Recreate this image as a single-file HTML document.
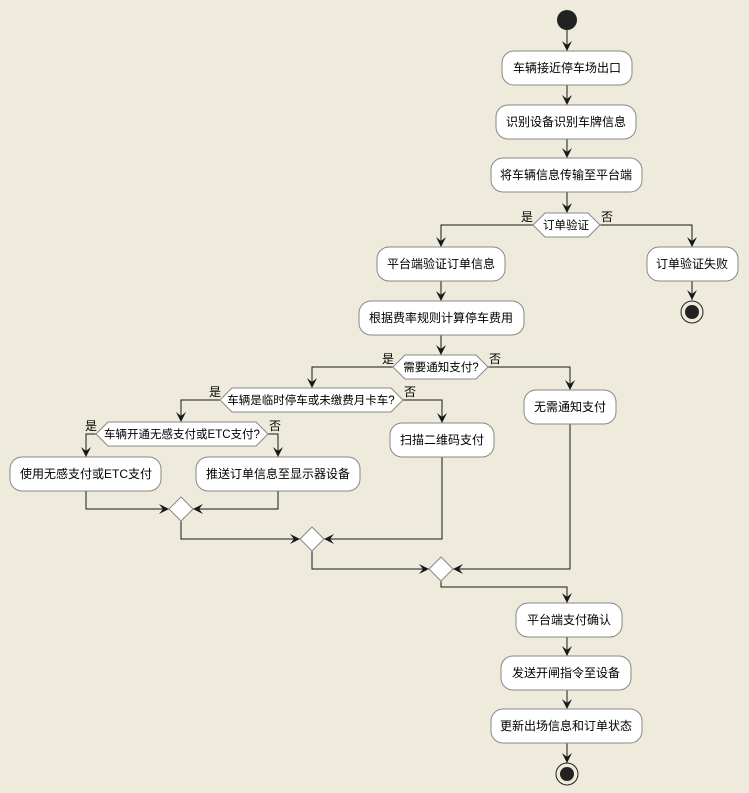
<!DOCTYPE html>
<html><head><meta charset="utf-8"><style>
html,body{margin:0;padding:0;background:#EEEBDC;}
svg{display:block;}
text{font-family:"Liberation Sans","Noto Sans CJK SC",sans-serif;font-size:12px;fill:#000;}
text.h{font-size:11.5px;}
.b{fill:#fff;stroke:#888;stroke-width:1;}
.l{fill:none;stroke:#181818;stroke-width:1;}
</style></head><body>
<svg width="749" height="793" viewBox="0 0 749 793" xmlns="http://www.w3.org/2000/svg">
<defs><marker id="a" viewBox="0 0 10 10" refX="10" refY="5" markerWidth="10" markerHeight="10" markerUnits="userSpaceOnUse" orient="auto"><path d="M0,0 L10,5 L0,10 L4,5 Z" fill="#181818"/></marker></defs>
<rect width="749" height="793" fill="#EEEBDC"/>
<circle cx="567" cy="20" r="10" fill="#222"/>
<g class="l" marker-end="url(#a)">
<path d="M567,30V51"/><path d="M567,85V105"/><path d="M567,139V158"/><path d="M567,192V213"/>
<path d="M533,225H441V247"/><path d="M600,225H692V247"/><path d="M692,281V300"/>
<path d="M441,281V301"/><path d="M441,335V355"/>
<path d="M393,367H312V388"/><path d="M488,367H570V390"/>
<path d="M220,400H181V422"/><path d="M403,400H442V423"/>
<path d="M96,434H86V457"/><path d="M268,434H278V457"/>
<path d="M86,491V509H169"/><path d="M278,491V509H193"/>
<path d="M181,521V539H300"/><path d="M442,457V539H324"/>
<path d="M312,551V569H429"/><path d="M570,424V569H453"/>
<path d="M441,581V587H567V603"/><path d="M567,637V656"/><path d="M567,690V709"/><path d="M567,743V763"/>
</g>
<rect class="b" x="502" y="51" width="130" height="34" rx="12"/><text x="567" y="72" text-anchor="middle">车辆接近停车场出口</text>
<rect class="b" x="496" y="105" width="140" height="34" rx="12"/><text x="566" y="126" text-anchor="middle">识别设备识别车牌信息</text>
<rect class="b" x="491" y="158" width="151" height="34" rx="12"/><text x="566" y="179" text-anchor="middle">将车辆信息传输至平台端</text>
<polygon class="b" points="533,225 545,213 588,213 600,225 588,237 545,237"/><text class="h" x="566" y="229" text-anchor="middle">订单验证</text>
<text x="521" y="221">是</text><text x="601" y="221">否</text>
<rect class="b" x="377" y="247" width="128" height="34" rx="12"/><text x="441" y="268" text-anchor="middle">平台端验证订单信息</text>
<rect class="b" x="647" y="247" width="91" height="34" rx="12"/><text x="692" y="268" text-anchor="middle">订单验证失败</text>
<circle cx="692" cy="312" r="11" fill="none" stroke="#222" stroke-width="1"/><circle cx="692" cy="312" r="7" fill="#222"/>
<rect class="b" x="359" y="301" width="165" height="34" rx="12"/><text x="441" y="322" text-anchor="middle">根据费率规则计算停车费用</text>
<polygon class="b" points="393,367 405,355 476,355 488,367 476,379 405,379"/><text class="h" x="441" y="371" text-anchor="middle">需要通知支付?</text>
<text x="382" y="363">是</text><text x="489" y="363">否</text>
<rect class="b" x="524" y="390" width="92" height="34" rx="12"/><text x="570" y="411" text-anchor="middle">无需通知支付</text>
<polygon class="b" points="220,400 232,388 391,388 403,400 391,412 232,412"/><text class="h" x="311" y="404" text-anchor="middle">车辆是临时停车或未缴费月卡车?</text>
<text x="209" y="396">是</text><text x="404" y="396">否</text>
<rect class="b" x="390" y="423" width="104" height="34" rx="12"/><text x="442" y="444" text-anchor="middle">扫描二维码支付</text>
<polygon class="b" points="96,434 108,422 256,422 268,434 256,446 108,446"/><text class="h" x="182" y="438" text-anchor="middle">车辆开通无感支付或ETC支付?</text>
<text x="85" y="430">是</text><text x="269" y="430">否</text>
<rect class="b" x="10" y="457" width="151" height="34" rx="12"/><text x="86" y="478" text-anchor="middle">使用无感支付或ETC支付</text>
<rect class="b" x="196" y="457" width="164" height="34" rx="12"/><text x="278" y="478" text-anchor="middle">推送订单信息至显示器设备</text>
<polygon class="b" points="181,497 193,509 181,521 169,509"/>
<polygon class="b" points="312,527 324,539 312,551 300,539"/>
<polygon class="b" points="441,557 453,569 441,581 429,569"/>
<rect class="b" x="516" y="603" width="106" height="34" rx="12"/><text x="569" y="624" text-anchor="middle">平台端支付确认</text>
<rect class="b" x="501" y="656" width="130" height="34" rx="12"/><text x="566" y="677" text-anchor="middle">发送开闸指令至设备</text>
<rect class="b" x="491" y="709" width="151" height="34" rx="12"/><text x="566" y="730" text-anchor="middle">更新出场信息和订单状态</text>
<circle cx="567" cy="774" r="11" fill="none" stroke="#222" stroke-width="1"/><circle cx="567" cy="774" r="7" fill="#222"/>
</svg>
</body></html>
